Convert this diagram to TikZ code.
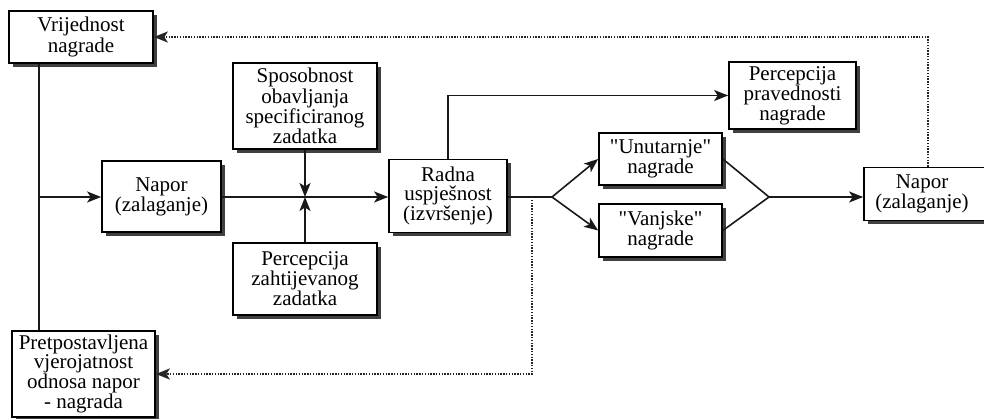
\documentclass[tikz,border=0pt]{standalone}
\usepackage{fontspec}
\setmainfont{Liberation Serif}[Ligatures=TeXOff]
\usetikzlibrary{arrows.meta}
\begin{document}
\begin{tikzpicture}[x=1pt,y=-1pt,
  box/.style={draw=black,line width=1.7pt,fill=white,inner sep=0pt,align=center,
    font=\fontsize{21}{18.5}\selectfont},
  shadowfill/.style={fill=black!75},
  conn/.style={line width=1.6pt,draw=black!90},
  arr/.style={conn,-{Stealth[length=14pt,width=11pt,inset=3.5pt]}},
  dotl/.style={line width=1.4pt,draw=black!85,dash pattern=on 1.4pt off 1.4pt},
  darr/.style={dotl,-{Stealth[length=14pt,width=11pt,inset=3.5pt]}}]
\useasboundingbox (0,0) rectangle (984,419);
\fill[white] (0,0) rectangle (984,419);
% box shadows (box outlines shifted 4pt right and down)
\fill[shadowfill] (13,15) rectangle (157,67);
\fill[shadowfill] (106,165) rectangle (225,236);
\fill[shadowfill] (237,67) rectangle (381,153);
\fill[shadowfill] (237,247) rectangle (381,319);
\fill[shadowfill] (393,163.5) rectangle (511,236.5);
\fill[shadowfill] (733,66) rectangle (860,133);
\fill[shadowfill] (603,137) rectangle (726,189);
\fill[shadowfill] (603,208) rectangle (726,261);
\fill[shadowfill] (868,171.5) rectangle (996,224.5);
\fill[shadowfill] (16,335) rectangle (159,421);
% boxes
\node[box,minimum width=144pt,minimum height=52pt] (vrij) at (81,37) {Vrijednost\\nagrade};
\node[box,minimum width=119pt,minimum height=71pt] (naporL) at (161.5,196.5) {Napor\\(zalaganje)};
\node[box,minimum width=144pt,minimum height=86pt] (spos) at (305,106) {Sposobnost\\obavljanja\\specificiranog\\zadatka};
\node[box,minimum width=144pt,minimum height=72pt] (perZ) at (305,279) {Percepcija\\zahtijevanog\\zadatka};
\node[box,minimum width=118pt,minimum height=73pt] (radna) at (448,196) {Radna\\uspješnost\\(izvršenje)};
\node[box,minimum width=127pt,minimum height=67pt] (perP) at (792.5,95.5) {Percepcija\\pravednosti\\nagrade};
\node[box,minimum width=123pt,minimum height=52pt] (unut) at (660.5,159) {"Unutarnje"\\nagrade};
\node[box,minimum width=123pt,minimum height=53pt] (vanj) at (660.5,230.5) {"Vanjske"\\nagrade};
\node[box,minimum width=128pt,minimum height=53pt] (naporR) at (928,194) {\hspace*{-12pt}Napor\\\hspace*{-12pt}(zalaganje)};
\node[box,minimum width=143pt,minimum height=86pt] (pret) at (83.5,374) {Pretpostavljena\\vjerojatnost\\odnosa napor\\- nagrada};
% coordinates
\coordinate (lv) at (39,197);
\coordinate (cr) at (305,197);
\coordinate (sp) at (552,197);
\coordinate (mg) at (769,197);
\coordinate (tr) at (928,37);
\coordinate (d1) at (532,197);
\coordinate (d2) at (532,374);
% connectors
\draw[conn] (vrij.south -| lv) -- (pret.north -| lv);
\draw[arr] (lv) -- (naporL.west |- lv);
\draw[arr] (naporL.east |- cr) -- (radna.west |- cr);
\draw[arr] (spos.south) -- (cr);
\draw[arr] (perZ.north) -- (cr);
\draw[arr] (radna.north) |- (perP.west);
\draw[conn] (radna.east |- sp) -- (sp);
\draw[arr] (sp) -- (unut.west);
\draw[arr] (sp) -- (vanj.west);
\draw[conn] (unut.east) -- (mg);
\draw[conn] (vanj.east) -- (mg);
\draw[arr] (mg) -- (naporR.west |- mg);
\draw[darr] (naporR.north -| tr) -- (tr) -- (vrij.east |- tr);
\draw[darr] (d1) -- (d2) -- (pret.east |- d2);
\end{tikzpicture}
\end{document}
